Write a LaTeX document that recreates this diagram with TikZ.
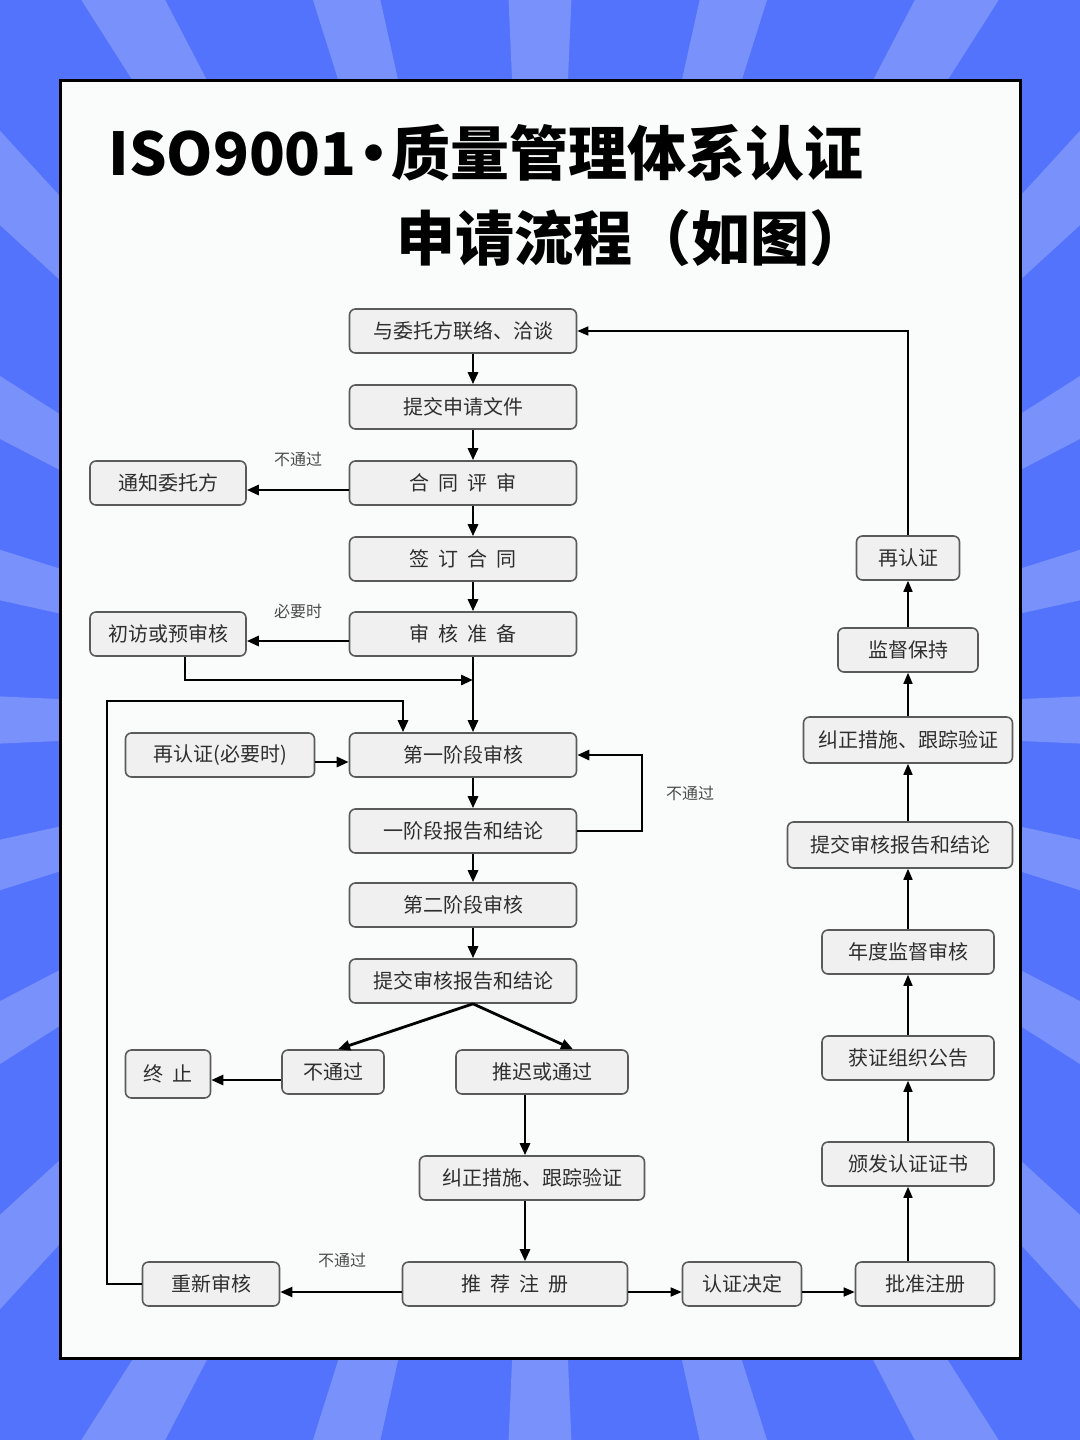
\documentclass[tikz,border=0pt]{standalone}
\usepackage{fontspec}
\setmainfont{Noto Sans CJK SC}
\usetikzlibrary{arrows.meta}
\definecolor{bgblue}{HTML}{5473FC}
\definecolor{raylight}{HTML}{7891FB}
\definecolor{panel}{HTML}{FAFBFB}
\definecolor{boxfill}{HTML}{F0F0F0}
\definecolor{boxline}{HTML}{5A5A5A}
\definecolor{boxtext}{HTML}{2E2E2E}
\newcommand\gp{\hspace{4.5pt}}

\begin{document}
\begin{tikzpicture}[x=0.5pt, y=-0.5pt,
    box/.style={draw=boxline, fill=boxfill, line width=0.8pt, rounded corners=3pt, minimum height=22pt, inner sep=0pt, text=boxtext, font=\fontsize{10}{12}\selectfont},
    lab/.style={text=black!70, inner sep=0pt, font=\fontsize{8}{10}\selectfont},
    title/.style={inner sep=0pt, font=\fontsize{29.5}{32}\selectfont\bfseries},
    flow/.style={line width=1.4pt, -{Triangle[length=6pt,width=5pt]}},
    link/.style={line width=0.8pt, -{Triangle[length=5.5pt,width=4.5pt]}}
]
\useasboundingbox (0,0) rectangle (1080,1440);
% --- Hintergrund mit Strahlen ---
\fill[bgblue] (0,0) rectangle (1080,1440);
\begin{scope}
\clip (0,0) rectangle (1080,1440);
\foreach \a in {0,15,...,345}
  \fill[raylight] (540,720) -- +(\a-2.5:1300) -- +(\a+2.5:1300) -- cycle;
\end{scope}
\draw[line width=1.5pt, fill=panel] (60,80) rectangle (1020,1358);
% --- Titel ---
\node[title, anchor=west] (t1) at (108,153) {ISO9001\kern-6pt·\kern-6pt质量管理体系认证};
\node[title, anchor=west] (t2) at (396,238) {申请流程（如图）};
% --- Hauptspalte ---
\node[box, minimum width=113.5pt] (contact) at (463,331) {与委托方联络、洽谈};
\node[box, minimum width=113.5pt] (apply) at (463,407) {提交申请文件};
\node[box, minimum width=113.5pt] (review) at (463,483) {合\gp 同\gp 评\gp 审};
\node[box, minimum width=113.5pt] (sign) at (463,559) {签\gp 订\gp 合\gp 同};
\node[box, minimum width=113.5pt] (prep) at (463,634) {审\gp 核\gp 准\gp 备};
\node[box, minimum width=113.5pt] (stage1) at (463,755) {第一阶段审核};
\node[box, minimum width=113.5pt] (report1) at (463,831) {一阶段报告和结论};
\node[box, minimum width=113.5pt] (stage2) at (463,905) {第二阶段审核};
\node[box, minimum width=113.5pt] (report2) at (463,981) {提交审核报告和结论};
% --- linke Seite ---
\node[box, minimum width=78pt] (notify) at (168,483) {通知委托方};
\node[box, minimum width=78pt] (previsit) at (168,634) {初访或预审核};
\node[box, minimum width=94.5pt] (recertreq) at (220,755) {再认证(必要时)};
\node[box, minimum width=42.5pt, minimum height=24pt] (stop) at (168,1074) {终\gp 止};
\node[box, minimum width=51pt] (fail) at (333,1072) {不通过};
\node[box, minimum width=86pt] (pass) at (542,1072) {推迟或通过};
\node[box, minimum width=112.5pt] (correct) at (532,1178) {纠正措施、跟踪验证};
\node[box, minimum width=68.5pt] (recheck) at (211,1284) {重新审核};
\node[box, minimum width=112.5pt] (recommend) at (515,1284) {推\gp 荐\gp 注\gp 册};
\node[box, minimum width=59.5pt] (decide) at (742,1284) {认证决定};
\node[box, minimum width=69.5pt] (approve) at (925,1284) {批准注册};
% --- rechte Spalte ---
\node[box, minimum width=86pt] (issue) at (908,1164) {颁发认证证书};
\node[box, minimum width=86pt] (publish) at (908,1058) {获证组织公告};
\node[box, minimum width=86pt] (annual) at (908,952) {年度监督审核};
\node[box, minimum width=112.5pt, minimum height=23pt] (report3) at (900,845) {提交审核报告和结论};
\node[box, minimum width=104.5pt, minimum height=23pt] (correct2) at (908,740) {纠正措施、跟踪验证};
\node[box, minimum width=70pt] (keep) at (908,650) {监督保持};
\node[box, minimum width=51.5pt] (recert) at (908,558) {再认证};
% --- Beschriftungen ---
\node[lab] (l1) at (298,459) {不通过};
\node[lab] (l2) at (298,611) {必要时};
\node[lab] (l3) at (690,793) {不通过};
\node[lab] (l4) at (342,1260) {不通过};
% --- Pfeile Hauptspalte ---
\coordinate (mx) at (473,0);
\foreach \a/\b in {contact/apply, apply/review, review/sign, sign/prep, prep/stage1, stage1/report1, report1/stage2, stage2/report2}
  \draw[flow] (\a.south -| mx) -- (\b.north -| mx);
\draw[flow] ([yshift=-3.5pt]review.west) -- ([yshift=-3.5pt]notify.east);
\draw[flow] ([yshift=-3.5pt]prep.west) -- ([yshift=-3.5pt]previsit.east);
\coordinate (join) at (473,680);
\draw[flow] ([xshift=8.5pt]previsit.south) |- (join);
\draw[flow] ([yshift=-3.5pt]recertreq.east) -- ([yshift=-3.5pt]stage1.west);
\coordinate (fb) at (642,0);
\draw[flow] (report1.east) -- (report1.east -| fb) |- (stage1.east);
% --- Verzweigung ---
\draw[flow] (report2.south -| mx) -- ([xshift=2.5pt]fail.north);
\draw[flow] (report2.south -| mx) -- ([xshift=15.5pt]pass.north);
\draw[flow] ([yshift=-4pt]fail.west) -- ([yshift=-4pt]fail.west -| stop.east);
\coordinate (bx) at (525,0);
\draw[flow] (pass.south -| bx) -- (correct.north -| bx);
\draw[flow] (correct.south -| bx) -- (recommend.north -| bx);
\draw[flow, line width=1pt] ([yshift=-4pt]recommend.west) -- ([yshift=-4pt]recheck.east);
\coordinate (lp) at (107,701);
\coordinate (lq) at (403,701);
\draw[flow] (recheck.west) -| (lp) -- (lq) -- (stage1.north -| lq);
\draw[link] ([yshift=-4pt]recommend.east) -- ([yshift=-4pt]decide.west);
\draw[link] ([yshift=-4pt]decide.east) -- ([yshift=-4pt]approve.west);
% --- Pfeile rechte Spalte ---
\coordinate (rx) at (908,0);
\foreach \a/\b in {approve/issue, issue/publish, publish/annual, annual/report3, report3/correct2, correct2/keep, keep/recert}
  \draw[link] (\a.north -| rx) -- (\b.south -| rx);
\draw[link] (recert.north) |- (contact.east);
\end{tikzpicture}
\end{document}
